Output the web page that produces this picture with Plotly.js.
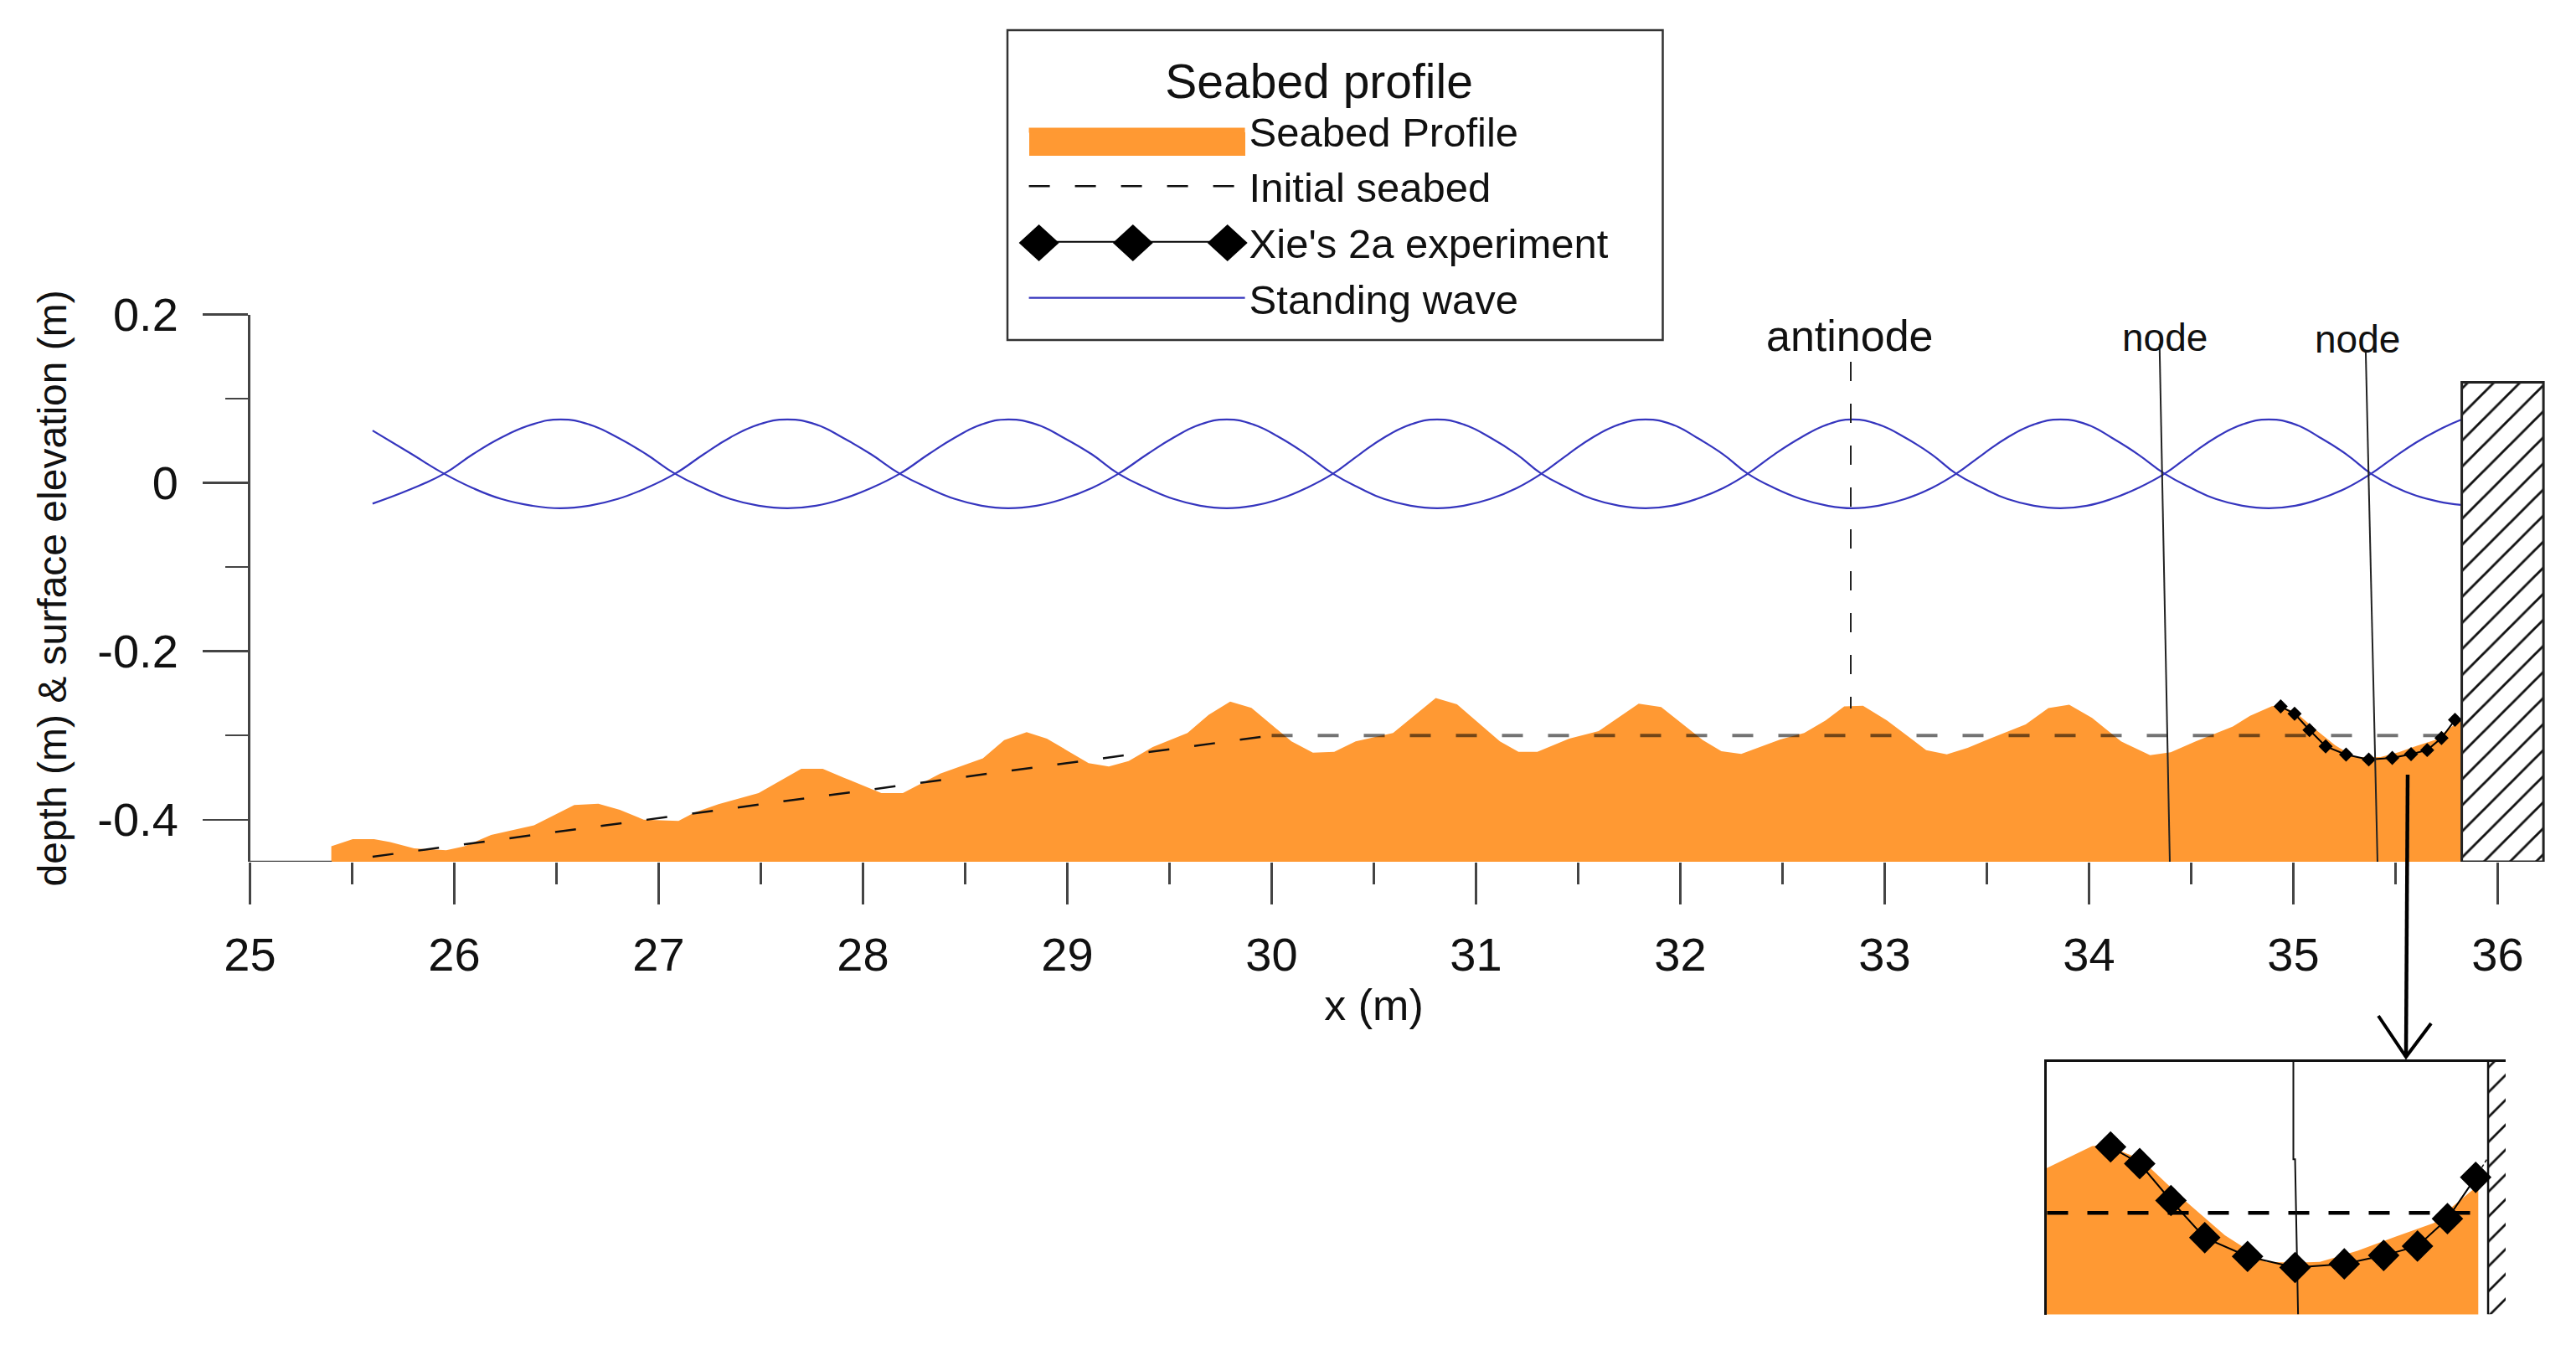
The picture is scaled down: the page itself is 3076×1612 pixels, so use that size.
<!DOCTYPE html>
<html><head><meta charset="utf-8">
<script src="https://cdn.plot.ly/plotly-3.0.1.min.js"></script>
<style>html,body{margin:0;padding:0;background:#fff}</style></head>
<body><div id="chart" style="width:3076px;height:1612px"></div>
<script>
// ---- data ----
const seabedX = [25.398,25.503,25.607,25.686,25.803,25.96,26.05,26.18,26.39,26.587,26.705,26.81,26.927,27.097,27.175,27.293,27.489,27.698,27.803,27.907,28.09,28.195,28.378,28.587,28.691,28.801,28.9,29.104,29.203,29.30,29.418,29.588,29.692,29.797,29.901,30.097,30.202,30.306,30.411,30.594,30.803,30.907,31.117,31.208,31.30,31.456,31.60,31.796,31.906,32.11,32.201,32.298,32.489,32.606,32.711,32.802,32.894,33.011,33.203,33.304,33.406,33.507,33.69,33.801,33.903,34.015,34.157,34.299,34.40,34.522,34.704,34.788,34.895,34.93,35.011,35.108,35.205,35.302,35.369,35.427,35.515,35.602,35.694,35.738,35.797,35.82];
const seabedY = [-0.4315,-0.4232,-0.4232,-0.4265,-0.4341,-0.4364,-0.4315,-0.4182,-0.4066,-0.3827,-0.381,-0.3883,-0.3999,-0.4016,-0.3916,-0.3817,-0.3684,-0.3396,-0.3396,-0.3502,-0.3684,-0.3684,-0.3452,-0.327,-0.3054,-0.2961,-0.3037,-0.3329,-0.3369,-0.3303,-0.3137,-0.2971,-0.2755,-0.2596,-0.2672,-0.307,-0.3203,-0.3193,-0.307,-0.2971,-0.2556,-0.2629,-0.307,-0.3193,-0.3193,-0.3037,-0.2948,-0.2622,-0.2662,-0.3054,-0.3186,-0.322,-0.3047,-0.2971,-0.2821,-0.2655,-0.2646,-0.2821,-0.3173,-0.3224,-0.3147,-0.3046,-0.2868,-0.2675,-0.2635,-0.2792,-0.3071,-0.3234,-0.3198,-0.3071,-0.2894,-0.2767,-0.2651,-0.2645,-0.2724,-0.2928,-0.3117,-0.3256,-0.326,-0.3256,-0.3198,-0.3125,-0.3052,-0.2964,-0.2855,-0.283];
const seabedBase = -0.45;
const initialSlopeX = [25.6, 30];
const initialSlopeY = [-0.444, -0.30];
const initialFlatX = [30, 35.8];
const initialFlatY = [-0.30, -0.30];
const xieX = [34.938,35.006,35.079,35.158,35.258,35.369,35.484,35.576,35.655,35.725,35.791];
const xieY = [-0.2655,-0.2742,-0.2935,-0.3129,-0.3227,-0.3285,-0.3266,-0.3222,-0.3173,-0.303,-0.2814];
const xieTailX = [35.791, 35.82];
const xieTailY = [-0.2814, -0.2709];
const waveX = [25.6,25.78,25.95,26.09,26.23,26.38,26.52,26.66,26.80,26.94,27.08,27.22,27.35,27.49,27.63,27.77,27.90,28.04,28.18,28.32,28.45,28.58,28.71,28.85,28.98,29.12,29.25,29.39,29.52,29.65,29.78,29.91,30.04,30.17,30.30,30.43,30.55,30.68,30.81,30.94,31.07,31.20,31.32,31.45,31.57,31.70,31.83,31.96,32.08,32.21,32.33,32.46,32.59,32.72,32.84,32.97,33.10,33.23,33.35,33.48,33.60,33.73,33.86,33.99,34.11,34.24,34.37,34.50,34.62,34.75,34.88,35.01,35.13,35.26,35.38,35.49,35.60,35.71,35.82];
const waveA = [0.0623,0.036,0.011,
  -0.006,-0.019,-0.027,-0.030,-0.027,-0.019,-0.006,0.011,
  0.034,0.054,0.0695,0.0755,0.0695,0.054,0.034,0.011,
  -0.006,-0.019,-0.027,-0.030,-0.027,-0.019,-0.006,0.011,
  0.034,0.054,0.0695,0.0755,0.0695,0.054,0.034,0.011,
  -0.006,-0.019,-0.027,-0.030,-0.027,-0.019,-0.006,0.011,
  0.034,0.054,0.0695,0.0755,0.0695,0.054,0.034,0.011,
  -0.006,-0.019,-0.027,-0.030,-0.027,-0.019,-0.006,0.011,
  0.034,0.054,0.0695,0.0755,0.0695,0.054,0.034,0.011,
  -0.006,-0.019,-0.027,-0.030,-0.027,-0.019,-0.006,0.011,
  0.030,0.048,0.063,0.075];
const waveB = [-0.0245,-0.008,0.011,
  0.034,0.054,0.0695,0.0755,0.0695,0.054,0.034,0.011,
  -0.006,-0.019,-0.027,-0.030,-0.027,-0.019,-0.006,0.011,
  0.034,0.054,0.0695,0.0755,0.0695,0.054,0.034,0.011,
  -0.006,-0.019,-0.027,-0.030,-0.027,-0.019,-0.006,0.011,
  0.034,0.054,0.0695,0.0755,0.0695,0.054,0.034,0.011,
  -0.006,-0.019,-0.027,-0.030,-0.027,-0.019,-0.006,0.011,
  0.034,0.054,0.0695,0.0755,0.0695,0.054,0.034,0.011,
  -0.006,-0.019,-0.027,-0.030,-0.027,-0.019,-0.006,0.011,
  0.034,0.054,0.0695,0.0755,0.0695,0.054,0.034,0.011,
  -0.004,-0.015,-0.022,-0.026];
const antinodeX = [32.834, 32.834];
const antinodeY = [0.144, -0.268];
const node1X = [34.345, 34.396];
const node1Y = [0.1653, -0.457];
const node2X = [35.354, 35.414];
const node2Y = [0.1578, -0.4737];
const wallX = [35.82, 36.22, 36.22, 35.82, 35.82];
const wallY = [-0.45, -0.45, 0.1195, 0.1195, -0.45];
const baseX = [25, 25.4];
const baseY = [-0.45, -0.45];
const insetNodeX = [35.365, 35.365, 35.369, 35.376];
const insetNodeY = [-0.221, -0.272, -0.272, -0.353];
const insetWallX = [35.82, 35.861, 35.861, 35.82, 35.82];
const insetWallY = [-0.353, -0.353, -0.221, -0.221, -0.353];
const insetWallLineX = [35.82, 35.82];
const insetWallLineY = [-0.221, -0.353];
const xTickVals = [25,26,27,28,29,30,31,32,33,34,35,36];
const yTickVals = [-0.4,-0.2,0,0.2];
const yTickText = ['-0.4','-0.2','0','0.2'];
const yMinorVals = [-0.3,-0.1,0.1];
const legendNames = ['Seabed Profile','Initial seabed',"Xie's 2a experiment",'Standing wave'];

// ---- layout geometry ----
const W = 3076, H = 1612;
const px = v => v / W, py = v => 1 - v / H;
const FONT = '"Liberation Sans", Arial, sans-serif';
const ORANGE = '#FF9933', BLUE = '#3535BE', INK = '#222', AXIS = '#444';

const polyX = seabedX.concat([seabedX[seabedX.length-1], seabedX[0]]);
const polyY = seabedY.concat([seabedBase, seabedBase]);
const insetPolyX = seabedX.slice(0,-1).concat([seabedX[seabedX.length-2], seabedX[0]]);
const insetPolyY = seabedY.slice(0,-1).concat([seabedBase, seabedBase]);

const line = (x,y,o,extra) => Object.assign({x,y,mode:'lines',type:'scatter',line:o,showlegend:false,hoverinfo:'skip',cliponaxis:false},extra||{});
const ins = {xaxis:'x2',yaxis:'y2',cliponaxis:true};

const traces = [
  {x:polyX,y:polyY,type:'scatter',mode:'none',fill:'toself',fillcolor:ORANGE,name:legendNames[0],cliponaxis:false,hoverinfo:'skip'},
  line(baseX,baseY,{color:AXIS,width:2.5}),
  line(initialSlopeX,initialSlopeY,{color:'#111',width:2.5,dash:'25px,30px'},{name:legendNames[1],showlegend:true}),
  line(initialFlatX,initialFlatY,{color:'rgba(0,0,0,0.55)',width:4,dash:'25px,30px'}),
  {x:xieX,y:xieY,type:'scatter',mode:'lines+markers',name:legendNames[2],line:{color:'#000',width:2},marker:{symbol:'diamond',size:13,color:'#000'},cliponaxis:false,hoverinfo:'skip'},
  line(waveX,waveA,{color:BLUE,width:2.2,shape:'spline',smoothing:1.3},{name:legendNames[3],showlegend:true}),
  line(waveX,waveB,{color:BLUE,width:2.2,shape:'spline',smoothing:1.3}),
  line(antinodeX,antinodeY,{color:INK,width:2,dash:'23px,27px'}),
  line(node1X,node1Y,{color:INK,width:2}),
  line(node2X,node2Y,{color:INK,width:2}),
  {x:wallX,y:wallY,xaxis:'x3',yaxis:'y',type:'scatter',mode:'lines',fill:'toself',fillcolor:'#fff',fillpattern:{shape:'/',size:22,solidity:0.13,fgcolor:'#111',bgcolor:'#fff'},line:{color:INK,width:3},showlegend:false,cliponaxis:false,hoverinfo:'skip'},
  // inset
  Object.assign({x:insetPolyX,y:insetPolyY,type:'scatter',mode:'none',fill:'toself',fillcolor:ORANGE,showlegend:false,hoverinfo:'skip'},ins),
  line(initialFlatX,initialFlatY,{color:'#000',width:4.5,dash:'25px,23px'},ins),
  line(insetNodeX,insetNodeY,{color:'#111',width:2},ins),
  Object.assign({x:insetWallX,y:insetWallY,type:'scatter',mode:'none',fill:'toself',fillcolor:'#fff',fillpattern:{shape:'/',size:21,solidity:0.13,fgcolor:'#111',bgcolor:'#fff'},showlegend:false,hoverinfo:'skip'},ins),
  line(insetWallLineX,insetWallLineY,{color:'#111',width:2.5},ins),
  line(xieTailX,xieTailY,{color:'#111',width:1.5,dash:'4px,3px'},ins),
  Object.assign({x:xieX,y:xieY,type:'scatter',mode:'lines+markers',line:{color:'#000',width:2},marker:{symbol:'diamond',size:29,color:'#000'},showlegend:false,hoverinfo:'skip'},ins)
];

const diamond = (cx,cy) => `M${px(cx-24)},${py(cy)} L${px(cx)},${py(cy-22)} L${px(cx+24)},${py(cy)} L${px(cx)},${py(cy+22)} Z`;
const paperShape = o => Object.assign({xref:'paper',yref:'paper',layer:'above'},o);
const shapes = [
  paperShape({type:'rect',x0:px(1203),x1:px(1985.5),y0:py(406),y1:py(36),line:{color:'#333',width:2.5},fillcolor:'rgba(0,0,0,0)'}),
  paperShape({type:'rect',x0:px(1229),x1:px(1487),y0:py(186),y1:py(158),line:{width:0},fillcolor:ORANGE}),
  paperShape({type:'path',path:diamond(1240.6,290),line:{width:0},fillcolor:'#000'}),
  paperShape({type:'path',path:diamond(1352.8,290),line:{width:0},fillcolor:'#000'}),
  paperShape({type:'path',path:diamond(1465.7,290),line:{width:0},fillcolor:'#000'}),
  paperShape({type:'line',x0:px(2875),x1:px(2873),y0:py(925),y1:py(1262),line:{color:'#000',width:4.5}}),
  paperShape({type:'path',path:`M${px(2840)},${py(1213)} L${px(2873)},${py(1262)} L${px(2903)},${py(1222)}`,line:{color:'#000',width:4},fillcolor:'rgba(0,0,0,0)'})
];

const note = (text,x,y,size) => ({text,xref:'paper',yref:'paper',x:px(x),y:py(y),xanchor:'center',yanchor:'middle',showarrow:false,font:{family:FONT,size,color:'#111'}});

const layout = {
  width:W,height:H,margin:{l:0,r:0,t:0,b:0},paper_bgcolor:'#fff',plot_bgcolor:'rgba(0,0,0,0)',
  font:{family:FONT,color:'#111'},
  showlegend:true,
  legend:{x:px(1223.6),y:py(43),xanchor:'left',yanchor:'top',bgcolor:'rgba(0,0,0,0)',borderwidth:0,
    itemwidth:258,entrywidth:510,entrywidthmode:'pixels',traceorder:'normal',
    font:{family:FONT,size:49,color:'#111'},
    title:{text:'Seabed profile',side:'top center',font:{family:FONT,size:57,color:'#111'}}},
  xaxis:{domain:[px(298.5),px(2982.5)],range:[25,36],anchor:'y',tickmode:'array',tickvals:xTickVals,
    ticks:'outside',ticklen:50,tickwidth:2.5,tickcolor:AXIS,showline:false,showgrid:false,zeroline:false,
    ticklabelstandoff:12,tickfont:{family:FONT,size:56,color:'#111'},
    minor:{tickmode:'linear',tick0:25.5,dtick:1,ticks:'outside',ticklen:26,tickwidth:2.5,tickcolor:AXIS,showgrid:false},
    title:{text:'x (m)',font:{family:FONT,size:52,color:'#111'},standoff:11}},
  yaxis:{domain:[py(1029),py(375.7)],range:[-0.45,0.2],anchor:'x',tickmode:'array',tickvals:yTickVals,ticktext:yTickText,
    ticks:'outside',ticklen:54,tickwidth:2.5,tickcolor:AXIS,showline:true,linecolor:AXIS,linewidth:2.5,showgrid:false,zeroline:false,
    ticklabelstandoff:18,tickfont:{family:FONT,size:56,color:'#111'},
    minor:{tickmode:'array',tickvals:yMinorVals,ticks:'outside',ticklen:27,tickwidth:2.5,tickcolor:AXIS,showgrid:false},
    title:{text:'depth (m) & surface elevation (m)',font:{family:FONT,size:48,color:'#111'},standoff:22}},
  xaxis2:{domain:[px(2443.6),px(2992)],range:[34.788,35.861],anchor:'y2',side:'top',showline:true,linecolor:'#111',linewidth:2.5,
    showgrid:false,zeroline:false,ticks:'',showticklabels:false},
  yaxis2:{domain:[py(1569.5),py(1267.8)],range:[-0.353,-0.221],anchor:'x2',side:'left',showline:true,linecolor:'#111',linewidth:2.5,
    showgrid:false,zeroline:false,ticks:'',showticklabels:false},
  xaxis3:{domain:[px(2934.7),px(3042)],range:[35.80,36.24],anchor:'y',visible:false},
  shapes,
  annotations:[note('antinode',2209,401,52),note('node',2585,403,46),note('node',2815,405,46)]
};
Plotly.newPlot('chart',traces,layout,{displayModeBar:false,staticPlot:true});
</script></body></html>
